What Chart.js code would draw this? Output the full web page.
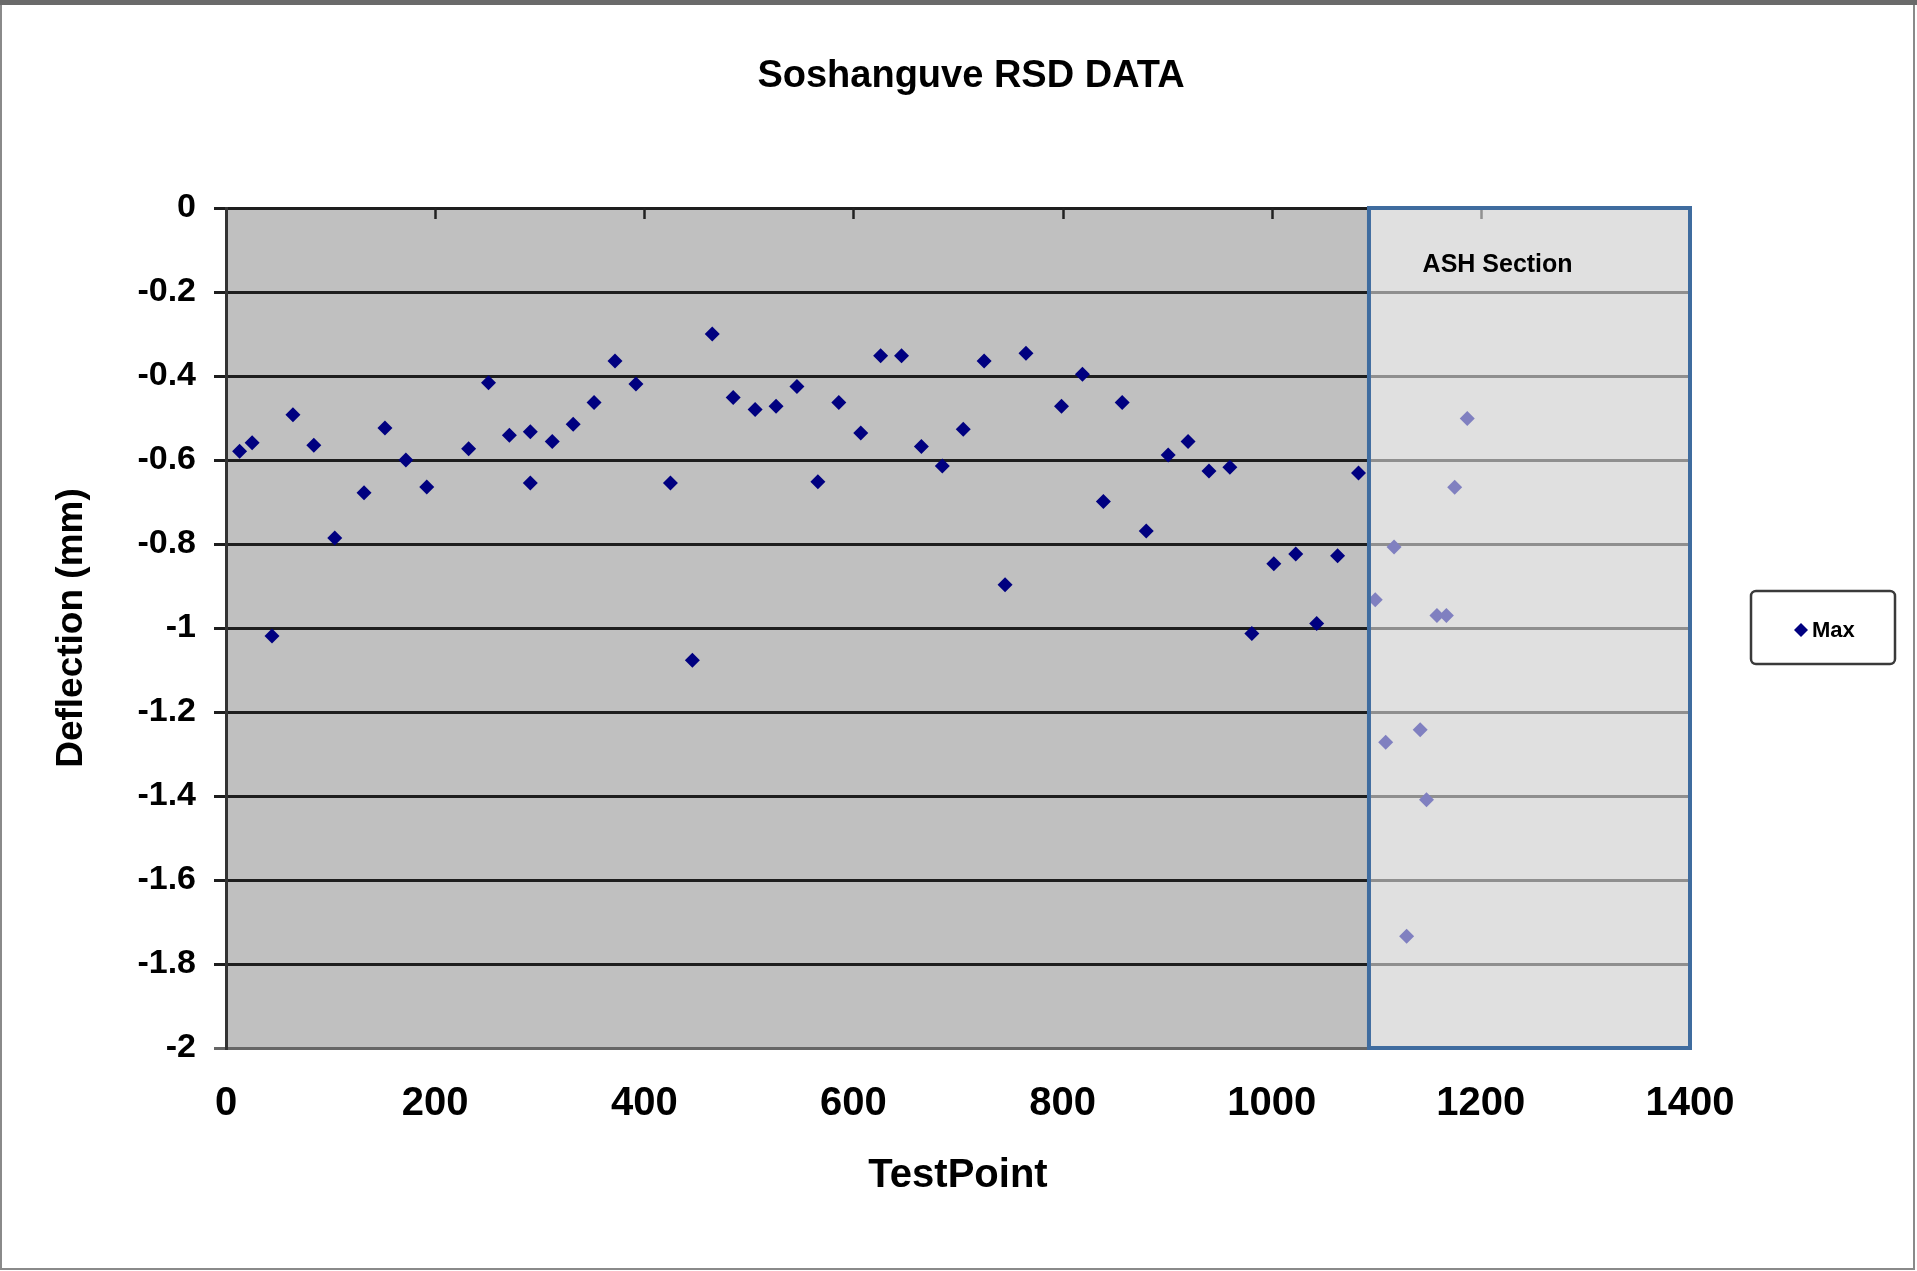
<!DOCTYPE html>
<html>
<head>
<meta charset="utf-8">
<title>Soshanguve RSD DATA</title>
<script src="https://cdn.jsdelivr.net/npm/chart.js@4.4.1/dist/chart.umd.min.js"></script>
<style>
  html, body { margin: 0; padding: 0; background: #fff; }
  #wrap { position: relative; width: 1917px; height: 1271px; }
</style>
</head>
<body>
<div id="wrap"><canvas id="rsd"></canvas></div>
<script>
// RSD survey: test point chainage vs. max deflection (mm)
const testPoints = [
  13, 25, 44, 64, 84, 104, 132, 152, 172, 192,
  232, 251, 271, 291, 291, 312, 332, 352, 372, 392,
  425, 446, 465, 485, 506, 526, 546, 566, 586, 607,
  626, 646, 665, 685, 705, 725, 745, 765, 799, 819,
  839, 857, 880, 901, 920, 940, 960, 981, 1002, 1023,
  1043, 1063, 1083,
  1099, 1109, 1117, 1129, 1142, 1148, 1158, 1167, 1175, 1187
];
const maxDeflection = [
  -0.579, -0.559, -1.019, -0.492, -0.565, -0.786, -0.678, -0.524, -0.600, -0.664,
  -0.573, -0.416, -0.541, -0.533, -0.655, -0.556, -0.515, -0.463, -0.364, -0.419,
  -0.655, -1.077, -0.300, -0.451, -0.480, -0.472, -0.425, -0.652, -0.463, -0.536,
  -0.352, -0.352, -0.568, -0.614, -0.527, -0.364, -0.897, -0.346, -0.472, -0.396,
  -0.699, -0.463, -0.769, -0.588, -0.556, -0.626, -0.617, -1.013, -0.847, -0.824,
  -0.989, -0.828, -0.631,
  -0.933, -1.272, -0.807, -1.734, -1.242, -1.409, -0.970, -0.970, -0.665, -0.501
];
const xTicks = [0, 200, 400, 600, 800, 1000, 1200, 1400];
const yTicks = [0, -0.2, -0.4, -0.6, -0.8, -1, -1.2, -1.4, -1.6, -1.8, -2];

// shaded stretch of the road marked as the ash section
const ashFrom = 1093;
const ashTo = 1400;

const FONT = "'Liberation Sans', Arial, sans-serif";
const NAVY = '#000080';

// plain numbers, no thousands separator or padded decimals
const plainLabel = v => String(Math.round(v * 10) / 10);

const framePlugin = {
  id: 'frame',
  beforeDraw(chart) {
    const { ctx, width, height, chartArea: a } = chart;
    ctx.save();
    ctx.fillStyle = '#fff';
    ctx.fillRect(0, 0, width, height);
    // plot area fill
    ctx.fillStyle = '#c0c0c0';
    ctx.fillRect(a.left, a.top, a.right - a.left, a.bottom - a.top);
    ctx.restore();
  },
  beforeDatasetsDraw(chart) {
    const { ctx } = chart;
    const x = chart.scales.x, y = chart.scales.y;
    const y0 = y.getPixelForValue(0);
    // category axis crosses at 0 (top), ticks point down into the plot
    ctx.save();
    ctx.strokeStyle = '#222';
    ctx.lineWidth = 2.5;
    xTicks.slice(1, -1).forEach(v => {
      const px = Math.round(x.getPixelForValue(v)) + 0.5;
      ctx.beginPath();
      ctx.moveTo(px, y0);
      ctx.lineTo(px, y0 + 11);
      ctx.stroke();
    });
    ctx.restore();
  },
  afterDatasetsDraw(chart) {
    const { ctx } = chart;
    const x = chart.scales.x, y = chart.scales.y;
    const l = x.getPixelForValue(ashFrom), r = x.getPixelForValue(ashTo);
    const t = y.getPixelForValue(0), b = y.getPixelForValue(-2);
    ctx.save();
    ctx.fillStyle = 'rgba(255,255,255,0.5)';
    ctx.fillRect(l, t, r - l, b - t);
    ctx.strokeStyle = '#3f6c9f';
    ctx.lineWidth = 4;
    ctx.strokeRect(l, t, r - l, b - t);
    ctx.fillStyle = '#000';
    ctx.font = `bold 25px ${FONT}`;
    ctx.textAlign = 'center';
    ctx.textBaseline = 'middle';
    ctx.fillText('ASH Section', x.getPixelForValue(1216), y.getPixelForValue(-0.136));
    ctx.restore();
  },
  afterDraw(chart) {
    const { ctx, width, height } = chart;
    ctx.save();
    // outer frame
    ctx.strokeStyle = '#8a8a8a';
    ctx.lineWidth = 2;
    ctx.strokeRect(1, 3, width - 4, height - 5);
    ctx.fillStyle = '#6a6a6a';
    ctx.fillRect(0, 0, width, 5);

    // title
    ctx.fillStyle = '#000';
    ctx.font = `bold 38px ${FONT}`;
    ctx.textAlign = 'center';
    ctx.textBaseline = 'middle';
    ctx.fillText('Soshanguve RSD DATA', 971, 77);

    // legend box
    ctx.strokeStyle = '#3a3a3a';
    ctx.lineWidth = 2.5;
    ctx.beginPath();
    ctx.roundRect(1751, 591, 144, 73, 5);
    ctx.stroke();
    const ds = chart.data.datasets[0];
    ctx.fillStyle = ds.backgroundColor;
    ctx.beginPath();
    ctx.moveTo(1801, 623);
    ctx.lineTo(1808, 630);
    ctx.lineTo(1801, 637);
    ctx.lineTo(1794, 630);
    ctx.closePath();
    ctx.fill();
    ctx.fillStyle = '#000';
    ctx.font = `bold 22px ${FONT}`;
    ctx.textAlign = 'left';
    ctx.fillText(ds.label, 1812, 631);
    ctx.restore();
  }
};

new Chart(document.getElementById('rsd'), {
  type: 'scatter',
  data: {
    datasets: [{
      label: 'Max',
      data: testPoints.map((t, i) => ({ x: t, y: maxDeflection[i] })),
      pointStyle: 'rectRot',
      pointRadius: 7.5,
      pointHoverRadius: 7.5,
      backgroundColor: NAVY,
      borderColor: NAVY,
      borderWidth: 0
    }]
  },
  options: {
    responsive: true,
    maintainAspectRatio: false,
    animation: false,
    layout: { padding: { left: 0, right: 227, top: 208, bottom: 0 } },
    plugins: {
      legend: { display: false },
      title: { display: false },
      tooltip: { enabled: false }
    },
    scales: {
      x: {
        type: 'linear',
        min: xTicks[0],
        max: xTicks[xTicks.length - 1],
        afterBuildTicks: s => { s.ticks = xTicks.map(v => ({ value: v })); },
        afterFit: s => { s.height = 223; },
        grid: { display: false, drawTicks: false },
        border: { display: false },
        ticks: {
          color: '#000',
          padding: 32,
          maxRotation: 0,
          callback: plainLabel,
          font: { family: FONT, size: 40, weight: 'bold' }
        },
        title: {
          display: true,
          text: 'TestPoint',
          color: '#000',
          padding: { top: 0, bottom: 71 },
          font: { family: FONT, size: 40, weight: 'bold' }
        }
      },
      y: {
        type: 'linear',
        min: yTicks[yTicks.length - 1],
        max: yTicks[0],
        afterBuildTicks: s => { s.ticks = yTicks.map(v => ({ value: v })); },
        afterFit: s => { s.width = 226; },
        grid: {
          color: c => (c.tick && c.tick.value === -2 ? '#666' : '#1e1e1e'),
          lineWidth: 3,
          tickLength: 12
        },
        border: { display: true, color: '#333', width: 3 },
        ticks: {
          color: '#000',
          padding: 18,
          callback: plainLabel,
          font: { family: FONT, size: 34, weight: 'bold' }
        },
        title: {
          display: true,
          text: 'Deflection (mm)',
          color: '#000',
          padding: { top: 50, bottom: 0 },
          font: { family: FONT, size: 37, weight: 'bold' }
        }
      }
    }
  },
  plugins: [framePlugin]
});
</script>
</body>
</html>
